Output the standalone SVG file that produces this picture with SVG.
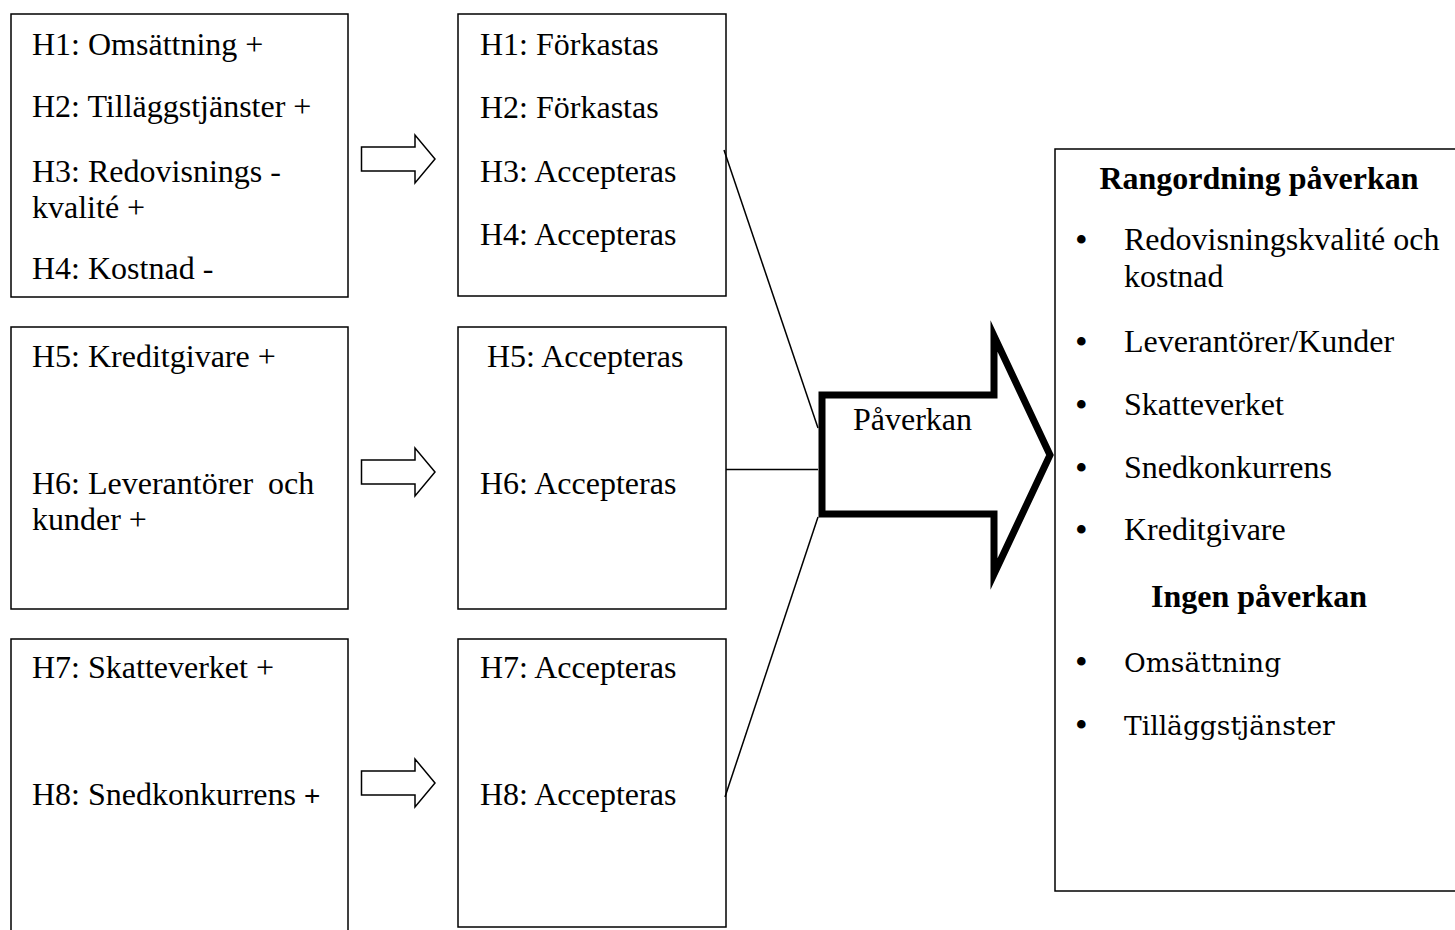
<svg xmlns="http://www.w3.org/2000/svg" width="1455" height="930" viewBox="0 0 1455 930">
<style>
.box{fill:#fff;stroke:#000;stroke-width:1.5}
.t{font-family:"Liberation Serif","Times New Roman",serif;font-size:32px;fill:#000}
.b{font-weight:bold}
.c{font-family:"DejaVu Serif",serif;font-size:26.5px;fill:#000}
.bu{font-family:"Liberation Serif","Times New Roman",serif;font-size:36px;fill:#000}
.sa{fill:#fff;stroke:#000;stroke-width:1.5;stroke-linejoin:miter}
.ln{stroke:#000;stroke-width:1.5;fill:none}
</style>
<rect width="1455" height="930" fill="#fff"/>
<g id="h1-4">
<rect class="box" x="11" y="14" width="337" height="283"/>
<text class="t" x="32" y="55">H1: Omsättning +</text>
<text class="t" x="32" y="117">H2: Tilläggstjänster +</text>
<text class="t" x="32" y="182">H3: Redovisnings -</text>
<text class="t" x="32" y="218">kvalité +</text>
<text class="t" x="32" y="279">H4: Kostnad -</text>
</g>
<g id="r1-4">
<rect class="box" x="458" y="14" width="268" height="282"/>
<text class="t" x="480" y="55">H1: Förkastas</text>
<text class="t" x="480" y="118">H2: Förkastas</text>
<text class="t" x="480" y="182">H3: Accepteras</text>
<text class="t" x="480" y="245">H4: Accepteras</text>
</g>
<g id="h5-6">
<rect class="box" x="11" y="327" width="337" height="282"/>
<text class="t" x="32" y="367">H5: Kreditgivare +</text>
<text class="t" x="32" y="494">H6: Leverantörer <tspan x="268">och</tspan></text>
<text class="t" x="32" y="530">kunder +</text>
</g>
<g id="r5-6">
<rect class="box" x="458" y="327" width="268" height="282"/>
<text class="t" x="487" y="367">H5: Accepteras</text>
<text class="t" x="480" y="494">H6: Accepteras</text>
</g>
<g id="h7-8">
<rect class="box" x="11" y="639" width="337" height="310"/>
<text class="t" x="32" y="678">H7: Skatteverket +</text>
<text class="t" x="32" y="805">H8: Snedkonkurrens <tspan font-family="Liberation Sans, sans-serif" font-size="28">+</tspan></text>
</g>
<g id="r7-8">
<rect class="box" x="458" y="639" width="268" height="288"/>
<text class="t" x="480" y="678">H7: Accepteras</text>
<text class="t" x="480" y="805">H8: Accepteras</text>
</g>
<g id="arrows">
<polygon class="sa" points="361.5,147 415,147 415,135 435,159 415,183 415,171 361.5,171"/>
<polygon class="sa" points="361.5,460 415,460 415,448 435,472 415,496 415,484 361.5,484"/>
<polygon class="sa" points="361.5,771 415,771 415,759 435,783 415,807 415,795 361.5,795"/>
</g>
<g id="connectors">
<line class="ln" x1="724" y1="150" x2="818" y2="428"/>
<line class="ln" x1="726" y1="469.5" x2="818" y2="469.5"/>
<line class="ln" x1="818" y1="517" x2="725" y2="797"/>
</g>
<g id="paverkan">
<polygon points="822,395 994,395 994,336 1050,455 994,574 994,514 822,514" fill="#fff" stroke="#000" stroke-width="7" stroke-linejoin="miter" stroke-miterlimit="10"/>
<text class="t" x="853" y="430">Påverkan</text>
</g>
<g id="rangordning">
<rect class="box" x="1055" y="149" width="420" height="742"/>
<text class="t b" x="1259" y="189" text-anchor="middle">Rangordning påverkan</text>
<g class="bu">
<text x="1075" y="252">•</text>
<text x="1075" y="354">•</text>
<text x="1075" y="417">•</text>
<text x="1075" y="480">•</text>
<text x="1075" y="542">•</text>
<text x="1075" y="674">•</text>
<text x="1075" y="737">•</text>
</g>
<g class="t">
<text x="1124" y="250">Redovisningskvalité och</text>
<text x="1124" y="287">kostnad</text>
<text x="1124" y="352">Leverantörer/Kunder</text>
<text x="1124" y="415">Skatteverket</text>
<text x="1124" y="478">Snedkonkurrens</text>
<text x="1124" y="540">Kreditgivare</text>
</g>
<text class="t b" x="1259" y="607" text-anchor="middle">Ingen påverkan</text>
<text class="c" x="1124" y="672">Omsättning</text>
<text class="c" x="1124" y="735">Tilläggstjänster</text>
</g>
</svg>
